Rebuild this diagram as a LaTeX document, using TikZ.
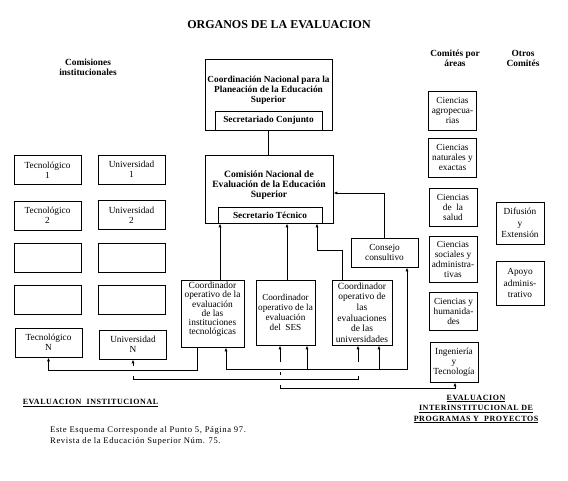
\documentclass[tikz,border=0pt]{standalone}
\usepackage{fontspec}
\setmainfont{Liberation Serif}
\newfontfamily\spacedfont{Liberation Serif}[LetterSpace=7]
\usetikzlibrary{arrows.meta}
\newcommand\bxfont{\fontsize{9.3}{10}\selectfont}
\newcommand\cofont{\fontsize{9.2}{10}\selectfont}
\tikzset{
  bx/.style={draw, line width=1pt, inner sep=0pt, align=center, font=\bxfont},
  lbox/.style={bx, minimum width=67pt, minimum height=29pt},
  abox/.style={bx, minimum width=48pt},
  hdr/.style={align=center, inner sep=0pt, font=\fontsize{9.4}{10}\selectfont\bfseries},
  lnk/.style={line width=0.85pt},
  arr/.style={lnk, -{Latex[length=3.8pt,width=3pt]}},
  lbl/.style={align=center, inner sep=0pt, font=\fontsize{8}{10.5}\selectfont\bfseries\spacedfont},
}
\begin{document}
\begin{tikzpicture}[x=1pt, y=-1pt]
\useasboundingbox (0,0) rectangle (568,480);

% title and headers
\node[font=\fontsize{12}{14}\selectfont\bfseries, inner sep=0pt] (title) at (279,25) {ORGANOS DE LA EVALUACION};
\node[hdr] (hcom) at (88,67) {Comisiones\\institucionales};
\node[hdr] (hareas) at (455,58) {Comités por\\áreas};
\node[hdr] (hotros) at (523,58) {Otros\\Comités};

% left column
\node[lbox] (tec1) at (47.5,170) {Tecnológico\\1};
\node[lbox] (univ1) at (131.5,169.5) {Universidad\\1};
\node[lbox] (tec2) at (47.5,215.5) {Tecnológico\\2};
\node[lbox] (univ2) at (131.5,215) {Universidad\\2};
\node[lbox] (tec3) at (48,258) {};
\node[lbox] (univ3) at (131.5,258) {};
\node[lbox] (tec4) at (48,299.5) {};
\node[lbox] (univ4) at (132,299.5) {};
\node[lbox] (tecn) at (48.5,342.5) {Tecnológico\\N};
\node[lbox] (univn) at (133,344.5) {Universidad\\N};

% centre
\node[bx, minimum width=127pt, minimum height=71pt] (coordnac) at (268.5,94.5) {};
\node[align=center, inner sep=0pt, font=\fontsize{9.3}{10}\selectfont\bfseries] (coordnactxt) at (268.5,90) {Coordinación Nacional para la\\Planeación de la Educación\\Superior};
\node[bx, minimum width=107pt, minimum height=19pt, font=\fontsize{9.3}{10}\selectfont\bfseries] (secconj) at (268.5,120.5) {Secretariado Conjunto};

\node[bx, minimum width=128pt, minimum height=68pt] (comision) at (269,189) {};
\node[align=center, inner sep=0pt, font=\fontsize{9.6}{10}\selectfont\bfseries] (comisiontxt) at (269,185) {Comisión Nacional de\\Evaluación de la Educación\\Superior};
\node[bx, minimum width=104pt, minimum height=16pt, font=\fontsize{9.3}{10}\selectfont\bfseries] (sectec) at (270,215) {Secretario Técnico};

\node[bx, minimum width=63pt, minimum height=67pt] (coordtec) at (212.5,313.5) {};
\node[align=center, inner sep=0pt, font=\fontsize{9.4}{9.2}\selectfont] (coordtectxt) at (212.5,309.5) {Coordinador\\operativo de la\\evaluación\\de las\\instituciones\\tecnológicas};
\node[bx, minimum width=59pt, minimum height=65pt, font=\cofont] (ses) at (285.5,312.5) {Coordinador\\operativo de la\\evaluación\\del\ \ SES};
\node[bx, minimum width=60pt, minimum height=65pt, font=\fontsize{9.5}{10.6}\selectfont] (coorduniv) at (362,312.5) {Coordinador\\operativo de\\las\\evaluaciones\\de las\\universidades};
\node[bx, minimum width=67pt, minimum height=29pt] (consejo) at (384.5,252.5) {Consejo\\consultivo};

% right columns
\node[abox, minimum height=39pt] (agro) at (452.5,110.5) {Ciencias\\agropecua-\\rias};
\node[abox, minimum height=39pt] (nat) at (452.5,157.5) {Ciencias\\naturales y\\exactas};
\node[abox, minimum height=38pt] (salud) at (453,207) {Ciencias\\de\ \ la\\salud};
\node[abox, minimum height=46pt] (soc) at (453,259) {Ciencias\\sociales y\\administra-\\tivas};
\node[abox, minimum height=38pt] (hum) at (453.5,311) {Ciencias y\\humanida-\\des};
\node[abox, minimum height=40pt] (ing) at (454,362) {Ingeniería\\y\\Tecnología};
\node[abox, minimum height=42pt, font=\fontsize{9.3}{11.5}\selectfont] (difusion) at (520,223) {Difusión\\y\\Extensión};
\node[abox, minimum height=44pt, font=\fontsize{9.3}{11.5}\selectfont] (apoyo) at (520,283) {Apoyo\\adminis-\\trativo};

% connectors, top
\draw[lnk] (secconj.south) -- (secconj.south |- comision.north);
\draw[arr] ([xshift=7.5pt]coordtec.north) -- ([xshift=7.5pt]coordtec.north |- sectec.south);
\draw[arr] ([xshift=1.5pt]ses.north) -- ([xshift=1.5pt]ses.north |- sectec.south);
\coordinate (cub) at (317,250);
\draw[arr] ([xshift=-20pt]coorduniv.north) |- (cub) -- (cub |- sectec.south);
\draw[arr] (consejo.north) |- ([yshift=-4pt]comision.east);

% connectors, bottom
\coordinate (l1) at (197,370);
\draw[arr] (l1 |- coordtec.south) -- (l1) -| (tecn.south);
\coordinate (l2a) at (226,369);
\coordinate (l2s) at (307,369);
\coordinate (l2u) at (379,369);
\coordinate (l2b) at (407,369);
\draw[arr] (l2a) -- (l2a |- coordtec.south);
\draw[arr] (l2a) -- (l2b) -- (l2b |- consejo.south);
\draw[arr] (l2s) -- (l2s |- ses.south);
\draw[arr] (l2u) -- (l2u |- coorduniv.south);

\draw[arr] ([yshift=-6pt]univn.south) -- (univn.south);
\coordinate (b1a) at (133,376);
\coordinate (b1b) at (358,376);
\draw[lnk] (b1a) -- ++(0,3) -- ([yshift=-3pt]b1b) -- (b1b);
\coordinate (su) at (358,362);
\draw[arr] (su) -- (su |- coorduniv.south);
\coordinate (ss) at (280,362);
\draw[arr] (ss) -- (ss |- ses.south);
\coordinate (dot1) at (280,372);
\draw[lnk] (dot1) -- ++(0,2.5);
\coordinate (b2a) at (280,385);
\draw[arr] (b2a) -- ++(0,3) -| ([xshift=1pt]ing.south);

% bottom labels
\node[lbl] (evinst) at (90.5,403) {\underline{EVALUACION\ \ INSTITUCIONAL}};
\node[lbl] (evinter) at (476,409) {\underline{EVALUACION}\\\underline{INTERINSTITUCIONAL DE}\\\underline{PROGRAMAS Y\ \ PROYECTOS}};
\node[anchor=west, inner sep=0pt, font=\fontsize{8.6}{11}\selectfont\spacedfont] (foot1) at (50,430) {Este Esquema Corresponde al Punto 5, Página 97.};
\node[anchor=west, inner sep=0pt, font=\fontsize{8.6}{11}\selectfont\spacedfont] (foot2) at (50,441) {Revista de la Educación Superior Núm. 75.};
\end{tikzpicture}
\end{document}
